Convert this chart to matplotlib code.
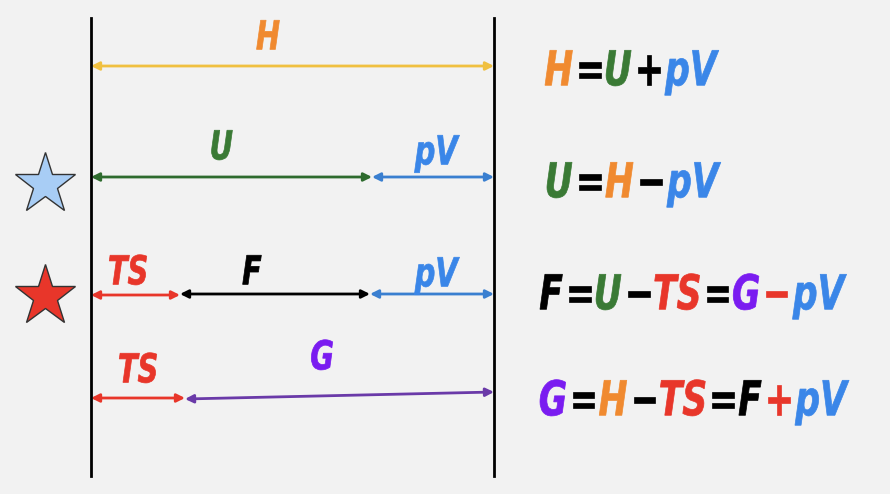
import matplotlib

matplotlib.use("Agg", force=True)
import matplotlib.pyplot as plt
from matplotlib.font_manager import FontProperties
from matplotlib.patches import FancyArrowPatch, PathPatch
from matplotlib.text import TextPath
from matplotlib.transforms import Affine2D

ORANGE = "#f08a30"
GREEN = "#3a7a35"
BLUE = "#3a86e8"
RED = "#e8362a"
PURPLE = "#7a1cf0"
BLACK = "#000000"

# arrows: (x0, y0, x1, y1, colour)
arrows = [
    (91, 66, 494, 66, "#f0c040"),
    (91, 177, 372, 177, "#2e6b2e"),
    (372, 177, 494, 177, "#3a7fd0"),
    (91, 295, 180, 295, RED),
    (180, 294, 370, 294, BLACK),
    (370, 294, 494, 294, "#3a7fd0"),
    (91, 398, 185, 398, RED),
    (185, 399, 494, 392, "#6a3aa8"),
]
labels = [
    ("H", 268, 35, ORANGE), ("U", 222, 145, GREEN), ("pV", 437, 150, BLUE),
    ("TS", 128, 270, RED), ("F", 252, 270, BLACK), ("pV", 437, 272, BLUE),
    ("TS", 138, 368, RED), ("G", 322, 355, PURPLE),
]
equations = [
    (545, 68, [("H", ORANGE), ("=", BLACK), ("U", GREEN), ("+", BLACK), ("pV", BLUE)]),
    (547, 180, [("U", GREEN), ("=", BLACK), ("H", ORANGE), ("\u2212", BLACK), ("pV", BLUE)]),
    (540, 292, [("F", BLACK), ("=", BLACK), ("U", GREEN), ("\u2212", BLACK), ("TS", RED),
                ("=", BLACK), ("G", PURPLE), ("\u2212", RED), ("pV", BLUE)]),
    (540, 398, [("G", PURPLE), ("=", BLACK), ("H", ORANGE), ("\u2212", BLACK), ("TS", RED),
                ("=", BLACK), ("F", BLACK), ("+", RED), ("pV", BLUE)]),
]
stars = [(45, 184, "#a8cdf5"), (45, 296, RED)]

PROP = FontProperties(family="DejaVu Sans", weight="bold", style="italic")
SQUEEZE = 0.72


def glyphs(ax, text, x, y, size, color, anchor="left"):
    # condensed text drawn as a path; y is the vertical centre of capitals
    path = TextPath((0, 0), text, size=size, prop=PROP)
    ext = path.get_extents()
    w = ext.width * SQUEEZE
    x0 = x - w / 2 if anchor == "center" else x
    tr = Affine2D().translate(-ext.x0, 0).scale(SQUEEZE, -1).translate(x0, y + 0.36 * size)
    ax.add_patch(PathPatch(tr.transform_path(path), facecolor=color, edgecolor=color, lw=0.5))
    return x0 + w


fig = plt.figure(figsize=(8.9, 4.94), dpi=100)
fig.patch.set_facecolor("#f2f2f2")
ax = fig.add_axes([0, 0, 1, 1])
ax.set_xlim(0, 890)
ax.set_ylim(494, 0)
ax.axis("off")

for x in (91, 494):
    ax.plot([x, x], [18, 476], color="black", lw=2)

for x0, y0, x1, y1, c in arrows:
    ax.add_patch(FancyArrowPatch((x0, y0), (x1, y1), arrowstyle="<|-|>", mutation_scale=12,
                                 lw=2, color=c, shrinkA=0, shrinkB=0))

for t, x, y, c in labels:
    glyphs(ax, t, x, y, 40, c, anchor="center")

for x, y, c in stars:
    ax.plot(x, y, marker="*", markersize=46, color=c, markeredgecolor="#333333", markeredgewidth=1)

for x, y, parts in equations:
    for t, c in parts:
        pad = t in ("=", "+", "\u2212")
        if pad:
            x += 5
        x = glyphs(ax, t, x, y, 48, c) + (5 if pad else 2)

fig.savefig("out.png", dpi=100, facecolor=fig.get_facecolor())
